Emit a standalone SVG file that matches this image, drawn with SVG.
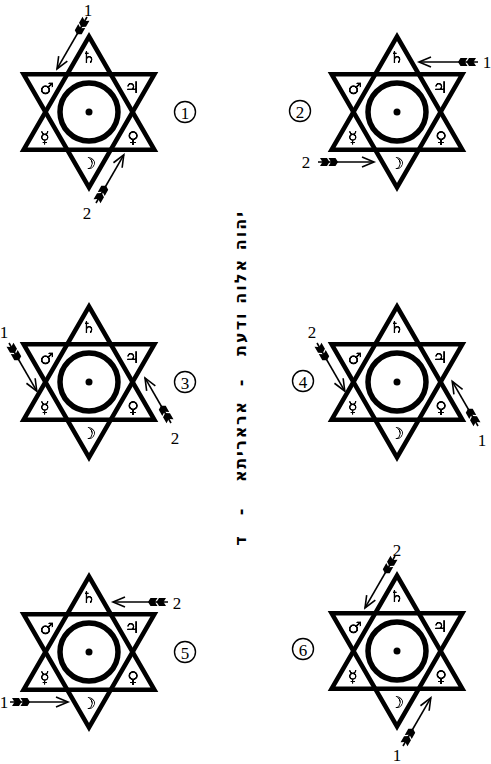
<svg xmlns="http://www.w3.org/2000/svg" width="491" height="764" viewBox="0 0 491 764">
<style>
.tri{fill:none;stroke:#000;stroke-width:4.5;stroke-linejoin:miter;stroke-miterlimit:10}
.ring{fill:none;stroke:#000;stroke-width:5.5}
.pl{font-family:"DejaVu Sans",sans-serif;font-size:16px;font-weight:bold;text-anchor:middle;dominant-baseline:central;fill:#000}
.num{font-family:"Liberation Serif",serif;font-size:17px;text-anchor:middle;dominant-baseline:central;fill:#000}
.cnum{fill:none;stroke:#000;stroke-width:1.4}
.shaft{fill:none;stroke:#000;stroke-width:1.6;stroke-linejoin:miter}
.heb{font-family:"DejaVu Sans",sans-serif;font-size:16px;font-weight:bold;text-anchor:middle;fill:#000}
</style>
<defs>
<filter id="blk" x="-20%" y="-20%" width="140%" height="140%">
<feColorMatrix type="matrix" values="0 0 0 0 0  0 0 0 0 0  0 0 0 0 0  0 0 0 1.6 0"/>
</filter>
<g id="star">
<polygon class="tri" points="0,-75.5 65.4,37.75 -65.4,37.75"/>
<polygon class="tri" points="-65.4,-37.75 65.4,-37.75 0,75.5"/>
<circle class="ring" r="29"/>
<circle r="3.5"/>
<g filter="url(#blk)">
<text class="pl" x="0" y="-55">♄</text>
<text class="pl" x="-42" y="-24">♂</text>
<text class="pl" x="43" y="-25">♃</text>
<text class="pl" x="-44" y="25">☿</text>
<text class="pl" x="44" y="25">♀</text>
<text class="pl" x="0" y="51">☽</text>
</g>
</g>
<g id="fl">
<polygon points="2,-4 9,-4 11.5,0 9,4 2,4 4.5,0"/>
<polygon points="10.5,-4 17.5,-4 20,0 17.5,4 10.5,4 13,0"/>
</g>
<path id="hd" class="shaft" d="M-12,-5 L0,0 L-12,5"/>
</defs>

<g id="fig1">
<use href="#star" x="89" y="112"/>
<circle class="cnum" cx="185" cy="112" r="10.5"/><text class="num" x="185" y="113">1</text>
</g>
<g id="fig2">
<use href="#star" x="397" y="112"/>
<circle class="cnum" cx="300" cy="111" r="10.5"/><text class="num" x="300" y="112">2</text>
</g>
<g id="fig3">
<use href="#star" x="89" y="382"/>
<circle class="cnum" cx="185" cy="382" r="10.5"/><text class="num" x="185" y="383">3</text>
</g>
<g id="fig4">
<use href="#star" x="397" y="382"/>
<circle class="cnum" cx="303" cy="381" r="10.5"/><text class="num" x="303" y="382">4</text>
</g>
<g id="fig5">
<use href="#star" x="89" y="652"/>
<circle class="cnum" cx="185" cy="652" r="10.5"/><text class="num" x="185" y="653">5</text>
</g>
<g id="fig6">
<use href="#star" x="397" y="651"/>
<circle class="cnum" cx="303" cy="649" r="10.5"/><text class="num" x="303" y="650">6</text>
</g>

<g id="connectors">
<g transform="translate(87,17) rotate(120)"><line class="shaft" x2="60"/><use href="#fl"/><use href="#hd" x="60"/></g>
<g transform="translate(96,203) rotate(-60)"><line class="shaft" x2="55.6"/><use href="#fl"/><use href="#hd" x="55.6"/></g>
<g transform="translate(478,62) rotate(180)"><line class="shaft" x2="59"/><use href="#fl"/><use href="#hd" x="59"/></g>
<g transform="translate(318,162)"><line class="shaft" x2="56"/><use href="#fl"/><use href="#hd" x="56"/></g>
<g transform="translate(9,343) rotate(60)"><line class="shaft" x2="55.6"/><use href="#fl"/><use href="#hd" x="55.6"/></g>
<g transform="translate(171,423) rotate(-120)"><line class="shaft" x2="52"/><use href="#fl"/><use href="#hd" x="52"/></g>
<g transform="translate(317,343) rotate(60)"><line class="shaft" x2="55.6"/><use href="#fl"/><use href="#hd" x="55.6"/></g>
<g transform="translate(478,426) rotate(-120)"><line class="shaft" x2="51.5"/><use href="#fl"/><use href="#hd" x="51.5"/></g>
<g transform="translate(168,602) rotate(180)"><line class="shaft" x2="55"/><use href="#fl"/><use href="#hd" x="55"/></g>
<g transform="translate(10,702)"><line class="shaft" x2="58"/><use href="#fl"/><use href="#hd" x="58"/></g>
<g transform="translate(395,556) rotate(120)"><line class="shaft" x2="60"/><use href="#fl"/><use href="#hd" x="60"/></g>
<g transform="translate(403,746) rotate(-60)"><line class="shaft" x2="55.6"/><use href="#fl"/><use href="#hd" x="55.6"/></g>
</g>

<g id="labels">
<text class="num" x="88" y="10">1</text>
<text class="num" x="87" y="213">2</text>
<text class="num" x="487" y="62">1</text>
<text class="num" x="306" y="162">2</text>
<text class="num" x="4" y="332">1</text>
<text class="num" x="175" y="438">2</text>
<text class="num" x="312" y="332">2</text>
<text class="num" x="482" y="440">1</text>
<text class="num" x="177" y="603">2</text>
<text class="num" x="4" y="702">1</text>
<text class="num" x="397" y="550">2</text>
<text class="num" x="397" y="755">1</text>
</g>

<g id="caption">
<text class="heb" transform="translate(246,284) rotate(-90)" textLength="144" lengthAdjust="spacing">יהוה אלוה ודעת</text>
<text class="heb" transform="translate(246,383) rotate(-90)">-</text>
<text class="heb" transform="translate(246,442) rotate(-90)" textLength="80" lengthAdjust="spacing">אראריתא</text>
<text class="heb" transform="translate(246,512) rotate(-90)">-</text>
<text class="heb" transform="translate(246,541) rotate(-90)">ד</text>
</g>
</svg>
